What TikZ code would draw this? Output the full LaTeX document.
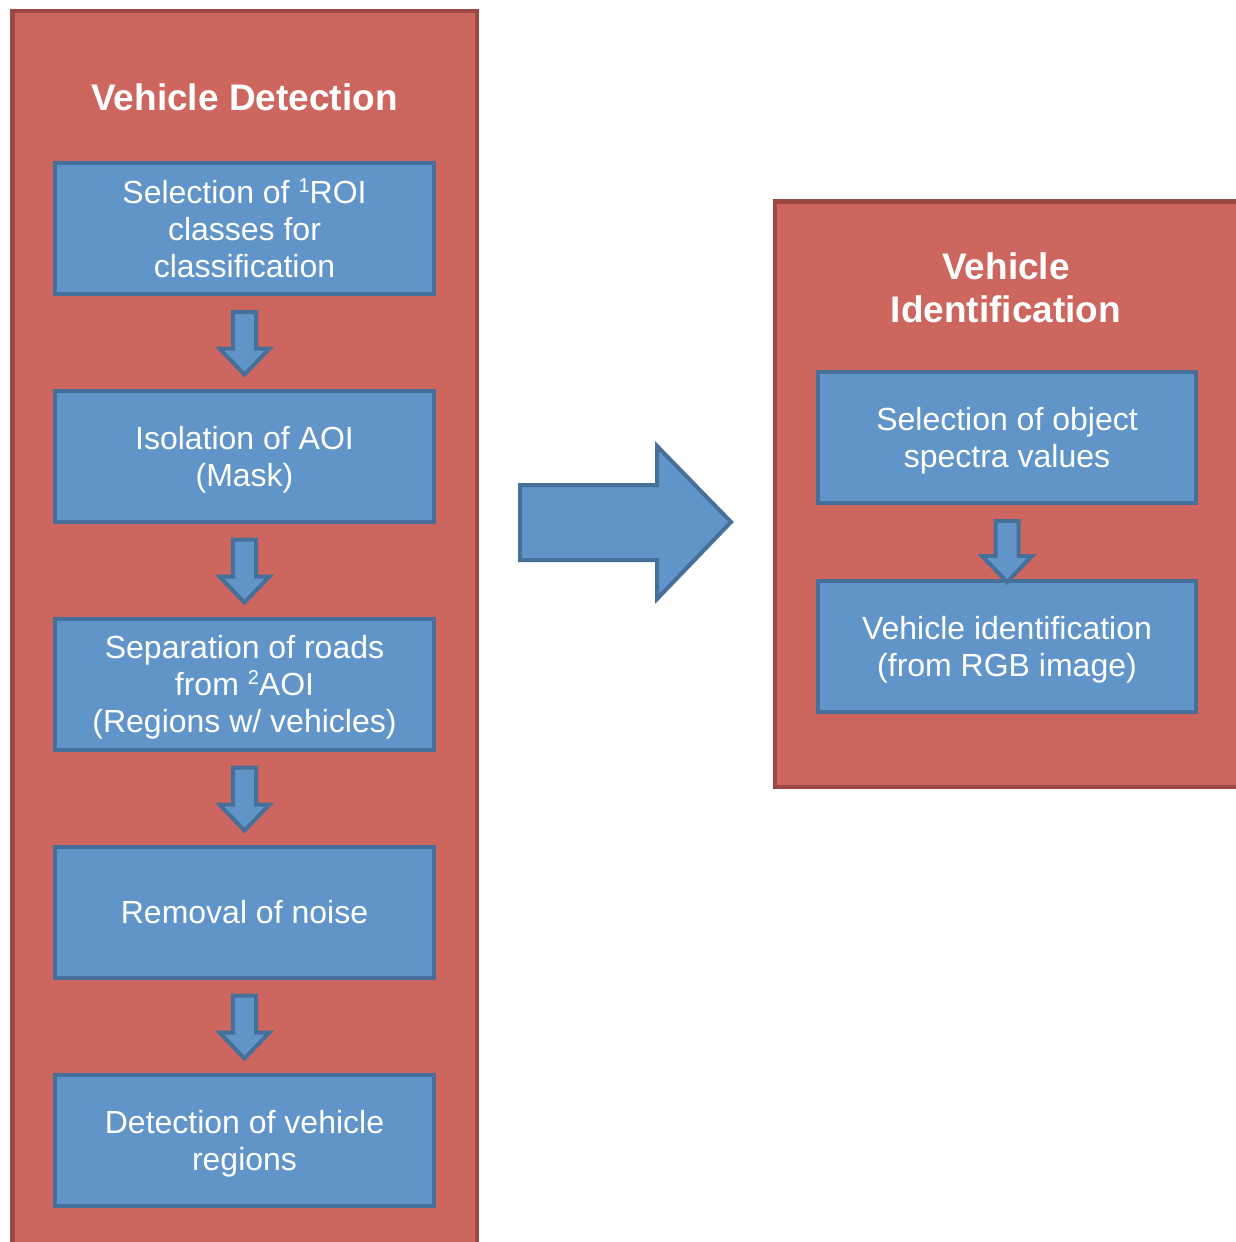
\documentclass[tikz,border=0pt]{standalone}
\usepackage{fontspec}
\setmainfont{Liberation Sans}
\usetikzlibrary{calc}
\definecolor{redfill}{RGB}{205,102,94}
\definecolor{redline}{RGB}{156,72,68}
\definecolor{bluefill}{RGB}{97,149,201}
\definecolor{blueline}{RGB}{70,111,154}
\newcommand\fstrut{\rule{0pt}{30pt}}
\newcommand\sups[1]{\raisebox{11pt}{\fontsize{20}{20}\selectfont #1}}
\newcommand\blockdown[3]{%
  \draw[blk] let \p1=(#1.south), \p2=(#2.north) in
    ({\x1-11.5pt},{\y1-16pt}) -- ({\x1+11.5pt},{\y1-16pt}) --
    ({\x1+11.5pt},{\y2+(#3)+26pt}) -- ({\x1+25pt},{\y2+(#3)+26pt}) --
    ({\x1},{\y2+(#3)}) -- ({\x1-25pt},{\y2+(#3)+26pt}) --
    ({\x1-11.5pt},{\y2+(#3)+26pt}) -- cycle;}
\begin{document}
\begin{tikzpicture}[x=1pt,y=-1pt,
  container/.style={draw=redline,fill=redfill,line width=4.5pt,inner sep=0pt},
  bluebox/.style={draw=blueline,fill=bluefill,line width=4pt,minimum width=379pt,
    minimum height=131pt,inner sep=0pt,text=white,align=center,
    font=\fontsize{32}{37}\selectfont},
  blk/.style={draw=blueline,fill=bluefill,line width=4pt,line join=miter},
  title/.style={text=white,font=\fontsize{37}{43}\selectfont\bfseries,align=center}]
\useasboundingbox (0,0) rectangle (1236,1242);
\clip (0,0) rectangle (1236,1242);
\fill[white] (0,0) rectangle (1236,1242);
% containers
\node[container,minimum width=464.5pt,minimum height=1248.75pt] (L) at (244.5,635.6) {};
\node[container,minimum width=472pt,minimum height=585.5pt] (R) at (1011,494) {};
% titles
\node[title,anchor=base] (tL) at (244.5,110) {Vehicle Detection};
\node[title,anchor=base] (tR) at (1006,322) {Vehicle\\Identification};
% left boxes
\node[bluebox] (b1) at (244.5,228.5) {Selection of \sups{1}ROI\\classes for\\classification};
\node[bluebox] (b2) at (244.5,456) {\fstrut Isolation of AOI\\(Mask)};
\node[bluebox] (b3) at (244.5,684) {\fstrut Separation of roads\\from \sups{2}AOI\\(Regions w/ vehicles)};
\node[bluebox] (b4) at (244.5,912) {Removal of noise};
\node[bluebox] (b5) at (244.5,1140) {\fstrut Detection of vehicle\\regions};
% right boxes
\node[bluebox,minimum width=378pt] (r1) at (1007,437.5) {\fstrut Selection of object\\spectra values};
\node[bluebox,minimum width=378pt] (r2) at (1007,646.5) {\fstrut Vehicle identification\\(from RGB image)};
% small arrows
\blockdown{b1}{b2}{14pt}
\blockdown{b2}{b3}{14pt}
\blockdown{b3}{b4}{14pt}
\blockdown{b4}{b5}{14pt}
\blockdown{r1}{r2}{-3pt}
% big arrow
\draw[blk] (520,485) -- (657,485) -- (657,446) -- (731,522) -- (657,599) -- (657,560) -- (520,560) -- cycle;
\end{tikzpicture}
\end{document}
